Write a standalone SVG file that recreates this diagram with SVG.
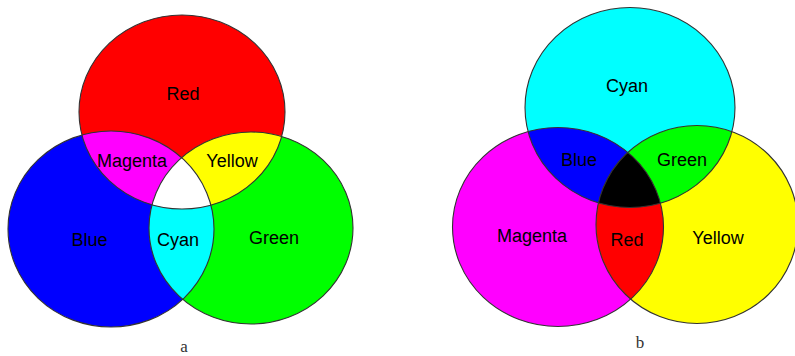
<svg xmlns="http://www.w3.org/2000/svg" width="795" height="356" viewBox="0 0 795 356">
<style>
  .out{fill:none;stroke:#333;stroke-width:1.1}
  .lbl{font-family:"Liberation Sans",Arial,sans-serif;font-size:18px;fill:#000;text-anchor:middle}
  .cap{font-family:"Liberation Serif","Times New Roman",serif;font-size:17px;fill:#333;text-anchor:middle}
</style>
<defs>
  <clipPath id="cR"><ellipse cx="182" cy="112" rx="103" ry="97"/></clipPath>
  <clipPath id="cB"><ellipse cx="111" cy="229" rx="103" ry="98"/></clipPath>
  <clipPath id="cG"><ellipse cx="251" cy="228" rx="102" ry="96"/></clipPath>
  <clipPath id="cC"><ellipse cx="630" cy="107.5" rx="105" ry="100"/></clipPath>
  <clipPath id="cM"><ellipse cx="558" cy="227" rx="105.5" ry="99.5"/></clipPath>
  <clipPath id="cY"><ellipse cx="697" cy="224.5" rx="101" ry="99"/></clipPath>
</defs>
<rect width="795" height="356" fill="#fff"/>

<!-- Diagram a: additive -->
<g id="additive">
  <g id="a-red"><ellipse cx="182" cy="112" rx="103" ry="97" fill="#ff0000"/></g>
  <g id="a-blue"><ellipse cx="111" cy="229" rx="103" ry="98" fill="#0000ff"/></g>
  <g id="a-green"><ellipse cx="251" cy="228" rx="102" ry="96" fill="#00ff00"/></g>
  <g id="a-magenta" clip-path="url(#cR)"><ellipse cx="111" cy="229" rx="103" ry="98" fill="#ff00ff"/></g>
  <g id="a-yellow" clip-path="url(#cR)"><ellipse cx="251" cy="228" rx="102" ry="96" fill="#ffff00"/></g>
  <g id="a-cyan" clip-path="url(#cB)"><ellipse cx="251" cy="228" rx="102" ry="96" fill="#00ffff"/></g>
  <g id="a-white" clip-path="url(#cR)"><g clip-path="url(#cB)"><ellipse cx="251" cy="228" rx="102" ry="96" fill="#ffffff"/></g></g>
  <g id="a-outlines">
    <ellipse class="out" cx="182" cy="112" rx="103" ry="97"/>
    <ellipse class="out" cx="111" cy="229" rx="103" ry="98"/>
    <ellipse class="out" cx="251" cy="228" rx="102" ry="96"/>
  </g>
  <g id="a-labels">
    <text class="lbl" x="183" y="99.5">Red</text>
    <text class="lbl" x="132" y="167">Magenta</text>
    <text class="lbl" x="232" y="167">Yellow</text>
    <text class="lbl" x="89.5" y="245.5">Blue</text>
    <text class="lbl" x="178" y="245.5">Cyan</text>
    <text class="lbl" x="274" y="243.5">Green</text>
    <text class="cap" x="184" y="351.5">a</text>
  </g>
</g>

<!-- Diagram b: subtractive -->
<g id="subtractive">
  <g id="b-cyan"><ellipse cx="630" cy="107.5" rx="105" ry="100" fill="#00ffff"/></g>
  <g id="b-magenta"><ellipse cx="558" cy="227" rx="105.5" ry="99.5" fill="#ff00ff"/></g>
  <g id="b-yellow"><ellipse cx="697" cy="224.5" rx="101" ry="99" fill="#ffff00"/></g>
  <g id="b-blue" clip-path="url(#cC)"><ellipse cx="558" cy="227" rx="105.5" ry="99.5" fill="#0000ff"/></g>
  <g id="b-green" clip-path="url(#cC)"><ellipse cx="697" cy="224.5" rx="101" ry="99" fill="#00ff00"/></g>
  <g id="b-red" clip-path="url(#cM)"><ellipse cx="697" cy="224.5" rx="101" ry="99" fill="#ff0000"/></g>
  <g id="b-black" clip-path="url(#cC)"><g clip-path="url(#cM)"><ellipse cx="697" cy="224.5" rx="101" ry="99" fill="#000000"/></g></g>
  <g id="b-outlines">
    <ellipse class="out" cx="630" cy="107.5" rx="105" ry="100"/>
    <ellipse class="out" cx="558" cy="227" rx="105.5" ry="99.5"/>
    <ellipse class="out" cx="697" cy="224.5" rx="101" ry="99"/>
  </g>
  <g id="b-labels">
    <text class="lbl" x="627" y="91.5">Cyan</text>
    <text class="lbl" x="579" y="166">Blue</text>
    <text class="lbl" x="682" y="166">Green</text>
    <text class="lbl" x="532" y="242">Magenta</text>
    <text class="lbl" x="627" y="245.5">Red</text>
    <text class="lbl" x="718" y="243.5">Yellow</text>
    <text class="cap" x="640" y="347.5">b</text>
  </g>
</g>
</svg>
